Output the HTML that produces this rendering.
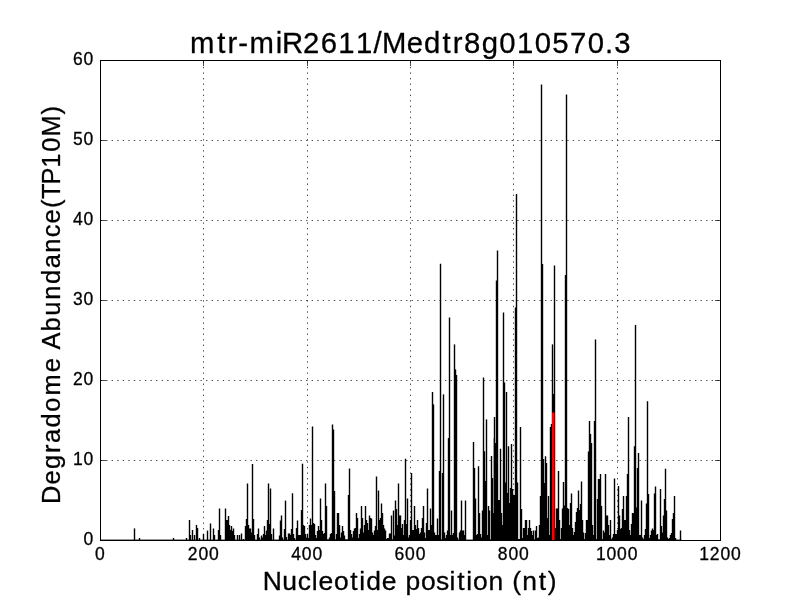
<!DOCTYPE html>
<html><head><meta charset="utf-8"><title>mtr-miR2611/Medtr8g010570.3</title>
<style>
html,body{margin:0;padding:0;background:#fff;}
body{width:800px;height:600px;overflow:hidden;font-family:"Liberation Sans",sans-serif;}
svg{display:block;}
text{font-family:"Liberation Sans",sans-serif;fill:#000;stroke:#000;stroke-width:0.3px;stroke-linejoin:round;}
</style></head>
<body>
<svg width="800" height="600" viewBox="0 0 800 600">
<rect x="0" y="0" width="800" height="600" fill="#ffffff"/>
<g stroke="#000" stroke-width="0.7" stroke-dasharray="1.389,4.167" fill="none"><line x1="203.5" y1="540.5" x2="203.5" y2="60.5"/><line x1="307.5" y1="540.5" x2="307.5" y2="60.5"/><line x1="410.5" y1="540.5" x2="410.5" y2="60.5"/><line x1="513.5" y1="540.5" x2="513.5" y2="60.5"/><line x1="617.5" y1="540.5" x2="617.5" y2="60.5"/><line x1="100.5" y1="460.5" x2="720.5" y2="460.5"/><line x1="100.5" y1="380.5" x2="720.5" y2="380.5"/><line x1="100.5" y1="300.5" x2="720.5" y2="300.5"/><line x1="100.5" y1="220.5" x2="720.5" y2="220.5"/><line x1="100.5" y1="140.5" x2="720.5" y2="140.5"/></g>
<g fill="#000"><rect x="133.80" y="528.40" width="1.4" height="12.10"/><rect x="138.80" y="538.00" width="1.4" height="2.50"/><rect x="172.80" y="538.00" width="1.4" height="2.50"/><rect x="185.80" y="538.00" width="1.4" height="2.50"/><rect x="188.80" y="520.00" width="1.4" height="20.50"/><rect x="189.80" y="535.00" width="1.4" height="5.50"/><rect x="191.80" y="530.00" width="1.4" height="10.50"/><rect x="193.80" y="535.00" width="1.4" height="5.50"/><rect x="195.80" y="525.00" width="1.4" height="15.50"/><rect x="196.80" y="528.00" width="1.4" height="12.50"/><rect x="198.80" y="538.00" width="1.4" height="2.50"/><rect x="202.80" y="534.00" width="1.4" height="6.50"/><rect x="206.80" y="530.60" width="1.4" height="9.90"/><rect x="209.80" y="523.50" width="1.4" height="17.00"/><rect x="212.80" y="528.50" width="1.4" height="12.00"/><rect x="213.80" y="535.00" width="1.4" height="5.50"/><rect x="217.80" y="530.00" width="1.4" height="10.50"/><rect x="218.80" y="508.50" width="1.4" height="32.00"/><rect x="219.80" y="535.00" width="1.4" height="5.50"/><rect x="224.80" y="508.50" width="1.4" height="32.00"/><rect x="225.80" y="520.00" width="1.4" height="20.50"/><rect x="226.80" y="520.00" width="1.4" height="20.50"/><rect x="227.80" y="516.00" width="1.4" height="24.50"/><rect x="228.80" y="525.00" width="1.4" height="15.50"/><rect x="229.80" y="530.00" width="1.4" height="10.50"/><rect x="230.80" y="526.00" width="1.4" height="14.50"/><rect x="231.80" y="531.00" width="1.4" height="9.50"/><rect x="232.80" y="528.50" width="1.4" height="12.00"/><rect x="233.80" y="535.00" width="1.4" height="5.50"/><rect x="236.80" y="535.00" width="1.4" height="5.50"/><rect x="238.80" y="535.00" width="1.4" height="5.50"/><rect x="240.80" y="533.50" width="1.4" height="7.00"/><rect x="242.80" y="539.00" width="1.4" height="1.50"/><rect x="244.80" y="526.00" width="1.4" height="14.50"/><rect x="245.80" y="519.00" width="1.4" height="21.50"/><rect x="246.80" y="483.50" width="1.4" height="57.00"/><rect x="247.80" y="525.00" width="1.4" height="15.50"/><rect x="248.80" y="528.50" width="1.4" height="12.00"/><rect x="249.80" y="528.50" width="1.4" height="12.00"/><rect x="250.80" y="532.50" width="1.4" height="8.00"/><rect x="251.80" y="464.00" width="1.4" height="76.50"/><rect x="252.80" y="519.00" width="1.4" height="21.50"/><rect x="253.80" y="535.00" width="1.4" height="5.50"/><rect x="256.80" y="534.00" width="1.4" height="6.50"/><rect x="257.80" y="528.50" width="1.4" height="12.00"/><rect x="258.80" y="537.50" width="1.4" height="3.00"/><rect x="260.80" y="535.50" width="1.4" height="5.00"/><rect x="261.80" y="537.50" width="1.4" height="3.00"/><rect x="262.80" y="534.00" width="1.4" height="6.50"/><rect x="263.80" y="526.00" width="1.4" height="14.50"/><rect x="264.80" y="535.00" width="1.4" height="5.50"/><rect x="265.80" y="530.60" width="1.4" height="9.90"/><rect x="266.80" y="520.00" width="1.4" height="20.50"/><rect x="267.80" y="483.50" width="1.4" height="57.00"/><rect x="268.80" y="524.00" width="1.4" height="16.50"/><rect x="269.80" y="488.50" width="1.4" height="52.00"/><rect x="270.80" y="534.00" width="1.4" height="6.50"/><rect x="272.80" y="528.50" width="1.4" height="12.00"/><rect x="278.80" y="535.50" width="1.4" height="5.00"/><rect x="279.80" y="520.50" width="1.4" height="20.00"/><rect x="280.80" y="515.50" width="1.4" height="25.00"/><rect x="281.80" y="537.50" width="1.4" height="3.00"/><rect x="283.80" y="529.00" width="1.4" height="11.50"/><rect x="284.80" y="500.60" width="1.4" height="39.90"/><rect x="285.80" y="537.00" width="1.4" height="3.50"/><rect x="287.80" y="533.50" width="1.4" height="7.00"/><rect x="288.80" y="533.50" width="1.4" height="7.00"/><rect x="289.80" y="535.00" width="1.4" height="5.50"/><rect x="290.80" y="529.00" width="1.4" height="11.50"/><rect x="291.80" y="493.25" width="1.4" height="47.25"/><rect x="292.80" y="534.00" width="1.4" height="6.50"/><rect x="293.80" y="538.00" width="1.4" height="2.50"/><rect x="295.80" y="528.00" width="1.4" height="12.50"/><rect x="296.80" y="520.50" width="1.4" height="20.00"/><rect x="297.80" y="535.00" width="1.4" height="5.50"/><rect x="298.80" y="535.00" width="1.4" height="5.50"/><rect x="299.80" y="535.00" width="1.4" height="5.50"/><rect x="300.80" y="510.00" width="1.4" height="30.50"/><rect x="301.80" y="463.70" width="1.4" height="76.80"/><rect x="302.80" y="525.00" width="1.4" height="15.50"/><rect x="303.80" y="526.00" width="1.4" height="14.50"/><rect x="304.80" y="534.00" width="1.4" height="6.50"/><rect x="305.80" y="537.50" width="1.4" height="3.00"/><rect x="306.80" y="534.00" width="1.4" height="6.50"/><rect x="307.80" y="538.00" width="1.4" height="2.50"/><rect x="308.80" y="525.00" width="1.4" height="15.50"/><rect x="309.80" y="518.50" width="1.4" height="22.00"/><rect x="310.80" y="525.00" width="1.4" height="15.50"/><rect x="311.80" y="426.50" width="1.4" height="114.00"/><rect x="312.80" y="523.00" width="1.4" height="17.50"/><rect x="313.80" y="524.00" width="1.4" height="16.50"/><rect x="314.80" y="535.00" width="1.4" height="5.50"/><rect x="315.80" y="538.00" width="1.4" height="2.50"/><rect x="316.80" y="531.00" width="1.4" height="9.50"/><rect x="317.80" y="526.00" width="1.4" height="14.50"/><rect x="318.80" y="530.00" width="1.4" height="10.50"/><rect x="319.80" y="498.50" width="1.4" height="42.00"/><rect x="320.80" y="520.00" width="1.4" height="20.50"/><rect x="321.80" y="531.00" width="1.4" height="9.50"/><rect x="322.80" y="534.00" width="1.4" height="6.50"/><rect x="323.80" y="533.00" width="1.4" height="7.50"/><rect x="324.80" y="483.50" width="1.4" height="57.00"/><rect x="325.80" y="506.00" width="1.4" height="34.50"/><rect x="326.80" y="539.50" width="1.4" height="1.00"/><rect x="327.80" y="539.50" width="1.4" height="1.00"/><rect x="328.80" y="537.50" width="1.4" height="3.00"/><rect x="329.80" y="534.00" width="1.4" height="6.50"/><rect x="330.80" y="533.00" width="1.4" height="7.50"/><rect x="331.80" y="424.50" width="1.4" height="116.00"/><rect x="332.80" y="429.50" width="1.4" height="111.00"/><rect x="333.80" y="491.00" width="1.4" height="49.50"/><rect x="334.80" y="539.50" width="1.4" height="1.00"/><rect x="335.80" y="534.00" width="1.4" height="6.50"/><rect x="336.80" y="513.00" width="1.4" height="27.50"/><rect x="337.80" y="513.00" width="1.4" height="27.50"/><rect x="338.80" y="525.00" width="1.4" height="15.50"/><rect x="339.80" y="537.50" width="1.4" height="3.00"/><rect x="340.80" y="532.50" width="1.4" height="8.00"/><rect x="341.80" y="526.00" width="1.4" height="14.50"/><rect x="342.80" y="531.00" width="1.4" height="9.50"/><rect x="343.80" y="535.50" width="1.4" height="5.00"/><rect x="344.80" y="539.50" width="1.4" height="1.00"/><rect x="345.80" y="539.50" width="1.4" height="1.00"/><rect x="346.80" y="539.50" width="1.4" height="1.00"/><rect x="347.80" y="495.00" width="1.4" height="45.50"/><rect x="348.80" y="468.50" width="1.4" height="72.00"/><rect x="349.80" y="530.00" width="1.4" height="10.50"/><rect x="350.80" y="534.00" width="1.4" height="6.50"/><rect x="351.80" y="537.50" width="1.4" height="3.00"/><rect x="352.80" y="531.00" width="1.4" height="9.50"/><rect x="353.80" y="528.50" width="1.4" height="12.00"/><rect x="354.80" y="528.00" width="1.4" height="12.50"/><rect x="355.80" y="513.00" width="1.4" height="27.50"/><rect x="356.80" y="518.00" width="1.4" height="22.50"/><rect x="357.80" y="538.00" width="1.4" height="2.50"/><rect x="358.80" y="534.00" width="1.4" height="6.50"/><rect x="359.80" y="528.50" width="1.4" height="12.00"/><rect x="360.80" y="506.00" width="1.4" height="34.50"/><rect x="361.80" y="518.00" width="1.4" height="22.50"/><rect x="362.80" y="532.50" width="1.4" height="8.00"/><rect x="363.80" y="525.00" width="1.4" height="15.50"/><rect x="364.80" y="506.00" width="1.4" height="34.50"/><rect x="365.80" y="520.00" width="1.4" height="20.50"/><rect x="366.80" y="523.00" width="1.4" height="17.50"/><rect x="367.80" y="530.00" width="1.4" height="10.50"/><rect x="368.80" y="515.50" width="1.4" height="25.00"/><rect x="369.80" y="518.00" width="1.4" height="22.50"/><rect x="370.80" y="518.50" width="1.4" height="22.00"/><rect x="371.80" y="532.50" width="1.4" height="8.00"/><rect x="372.80" y="535.00" width="1.4" height="5.50"/><rect x="373.80" y="530.50" width="1.4" height="10.00"/><rect x="374.80" y="526.00" width="1.4" height="14.50"/><rect x="375.80" y="476.50" width="1.4" height="64.00"/><rect x="376.80" y="530.00" width="1.4" height="10.50"/><rect x="377.80" y="490.50" width="1.4" height="50.00"/><rect x="378.80" y="520.00" width="1.4" height="20.50"/><rect x="379.80" y="518.00" width="1.4" height="22.50"/><rect x="380.80" y="503.50" width="1.4" height="37.00"/><rect x="381.80" y="513.00" width="1.4" height="27.50"/><rect x="382.80" y="525.00" width="1.4" height="15.50"/><rect x="383.80" y="528.50" width="1.4" height="12.00"/><rect x="384.80" y="530.50" width="1.4" height="10.00"/><rect x="385.80" y="539.00" width="1.4" height="1.50"/><rect x="386.80" y="538.00" width="1.4" height="2.50"/><rect x="387.80" y="538.00" width="1.4" height="2.50"/><rect x="388.80" y="533.50" width="1.4" height="7.00"/><rect x="389.80" y="533.50" width="1.4" height="7.00"/><rect x="390.80" y="515.50" width="1.4" height="25.00"/><rect x="391.80" y="539.50" width="1.4" height="1.00"/><rect x="392.80" y="510.50" width="1.4" height="30.00"/><rect x="393.80" y="535.50" width="1.4" height="5.00"/><rect x="394.80" y="500.50" width="1.4" height="40.00"/><rect x="395.80" y="509.00" width="1.4" height="31.50"/><rect x="396.80" y="525.00" width="1.4" height="15.50"/><rect x="397.80" y="483.50" width="1.4" height="57.00"/><rect x="398.80" y="515.50" width="1.4" height="25.00"/><rect x="399.80" y="515.50" width="1.4" height="25.00"/><rect x="400.80" y="528.00" width="1.4" height="12.50"/><rect x="401.80" y="524.00" width="1.4" height="16.50"/><rect x="402.80" y="535.00" width="1.4" height="5.50"/><rect x="403.80" y="520.00" width="1.4" height="20.50"/><rect x="404.80" y="458.75" width="1.4" height="81.75"/><rect x="405.80" y="524.00" width="1.4" height="16.50"/><rect x="406.80" y="498.50" width="1.4" height="42.00"/><rect x="407.80" y="537.50" width="1.4" height="3.00"/><rect x="408.80" y="535.00" width="1.4" height="5.50"/><rect x="409.80" y="520.00" width="1.4" height="20.50"/><rect x="410.80" y="473.00" width="1.4" height="67.50"/><rect x="411.80" y="530.00" width="1.4" height="10.50"/><rect x="412.80" y="530.00" width="1.4" height="10.50"/><rect x="413.80" y="506.00" width="1.4" height="34.50"/><rect x="414.80" y="525.00" width="1.4" height="15.50"/><rect x="415.80" y="529.00" width="1.4" height="11.50"/><rect x="416.80" y="520.00" width="1.4" height="20.50"/><rect x="417.80" y="528.00" width="1.4" height="12.50"/><rect x="418.80" y="534.00" width="1.4" height="6.50"/><rect x="419.80" y="532.50" width="1.4" height="8.00"/><rect x="420.80" y="528.00" width="1.4" height="12.50"/><rect x="421.80" y="518.00" width="1.4" height="22.50"/><rect x="422.80" y="506.00" width="1.4" height="34.50"/><rect x="423.80" y="532.50" width="1.4" height="8.00"/><rect x="424.80" y="538.00" width="1.4" height="2.50"/><rect x="425.80" y="523.00" width="1.4" height="17.50"/><rect x="426.80" y="488.50" width="1.4" height="52.00"/><rect x="427.80" y="530.00" width="1.4" height="10.50"/><rect x="428.80" y="530.00" width="1.4" height="10.50"/><rect x="429.80" y="508.50" width="1.4" height="32.00"/><rect x="430.80" y="525.00" width="1.4" height="15.50"/><rect x="431.80" y="392.00" width="1.4" height="148.50"/><rect x="432.80" y="404.40" width="1.4" height="136.10"/><rect x="433.80" y="532.50" width="1.4" height="8.00"/><rect x="434.80" y="535.00" width="1.4" height="5.50"/><rect x="435.80" y="535.00" width="1.4" height="5.50"/><rect x="436.80" y="518.50" width="1.4" height="22.00"/><rect x="437.80" y="535.00" width="1.4" height="5.50"/><rect x="438.80" y="471.00" width="1.4" height="69.50"/><rect x="439.80" y="263.75" width="1.4" height="276.75"/><rect x="440.80" y="539.50" width="1.4" height="1.00"/><rect x="441.80" y="473.00" width="1.4" height="67.50"/><rect x="442.80" y="394.40" width="1.4" height="146.10"/><rect x="443.80" y="532.50" width="1.4" height="8.00"/><rect x="444.80" y="538.00" width="1.4" height="2.50"/><rect x="445.80" y="535.00" width="1.4" height="5.50"/><rect x="446.80" y="530.50" width="1.4" height="10.00"/><rect x="447.80" y="438.00" width="1.4" height="102.50"/><rect x="448.80" y="317.50" width="1.4" height="223.00"/><rect x="449.80" y="535.00" width="1.4" height="5.50"/><rect x="450.80" y="510.50" width="1.4" height="30.00"/><rect x="451.80" y="535.00" width="1.4" height="5.50"/><rect x="452.80" y="533.00" width="1.4" height="7.50"/><rect x="453.80" y="344.40" width="1.4" height="196.10"/><rect x="454.80" y="369.40" width="1.4" height="171.10"/><rect x="455.80" y="375.00" width="1.4" height="165.50"/><rect x="456.80" y="537.50" width="1.4" height="3.00"/><rect x="458.80" y="532.50" width="1.4" height="8.00"/><rect x="459.80" y="530.50" width="1.4" height="10.00"/><rect x="460.80" y="500.50" width="1.4" height="40.00"/><rect x="461.80" y="530.50" width="1.4" height="10.00"/><rect x="462.80" y="530.50" width="1.4" height="10.00"/><rect x="463.80" y="535.00" width="1.4" height="5.50"/><rect x="464.80" y="500.50" width="1.4" height="40.00"/><rect x="472.80" y="442.00" width="1.4" height="98.50"/><rect x="473.80" y="468.00" width="1.4" height="72.50"/><rect x="474.80" y="498.50" width="1.4" height="42.00"/><rect x="475.80" y="535.00" width="1.4" height="5.50"/><rect x="476.80" y="534.00" width="1.4" height="6.50"/><rect x="477.80" y="466.25" width="1.4" height="74.25"/><rect x="478.80" y="513.00" width="1.4" height="27.50"/><rect x="479.80" y="534.00" width="1.4" height="6.50"/><rect x="480.80" y="537.50" width="1.4" height="3.00"/><rect x="481.80" y="510.50" width="1.4" height="30.00"/><rect x="482.80" y="377.50" width="1.4" height="163.00"/><rect x="483.80" y="451.25" width="1.4" height="89.25"/><rect x="484.80" y="481.00" width="1.4" height="59.50"/><rect x="485.80" y="419.40" width="1.4" height="121.10"/><rect x="486.80" y="535.00" width="1.4" height="5.50"/><rect x="487.80" y="506.00" width="1.4" height="34.50"/><rect x="488.80" y="510.50" width="1.4" height="30.00"/><rect x="489.80" y="539.50" width="1.4" height="1.00"/><rect x="490.80" y="456.00" width="1.4" height="84.50"/><rect x="491.80" y="478.00" width="1.4" height="62.50"/><rect x="492.80" y="513.00" width="1.4" height="27.50"/><rect x="493.80" y="417.00" width="1.4" height="123.50"/><rect x="494.80" y="443.00" width="1.4" height="97.50"/><rect x="495.80" y="280.50" width="1.4" height="260.00"/><rect x="496.80" y="250.50" width="1.4" height="290.00"/><rect x="497.80" y="500.00" width="1.4" height="40.50"/><rect x="498.80" y="500.00" width="1.4" height="40.50"/><rect x="499.80" y="448.75" width="1.4" height="91.75"/><rect x="500.80" y="513.00" width="1.4" height="27.50"/><rect x="501.80" y="525.00" width="1.4" height="15.50"/><rect x="502.80" y="312.50" width="1.4" height="228.00"/><rect x="503.80" y="382.50" width="1.4" height="158.00"/><rect x="504.80" y="482.50" width="1.4" height="58.00"/><rect x="505.80" y="392.00" width="1.4" height="148.50"/><rect x="506.80" y="493.00" width="1.4" height="47.50"/><rect x="507.80" y="446.25" width="1.4" height="94.25"/><rect x="508.80" y="503.00" width="1.4" height="37.50"/><rect x="509.80" y="488.00" width="1.4" height="52.50"/><rect x="510.80" y="444.00" width="1.4" height="96.50"/><rect x="511.80" y="489.00" width="1.4" height="51.50"/><rect x="512.80" y="495.00" width="1.4" height="45.50"/><rect x="513.80" y="495.00" width="1.4" height="45.50"/><rect x="514.80" y="307.50" width="1.4" height="233.00"/><rect x="515.80" y="194.00" width="1.4" height="346.50"/><rect x="516.80" y="482.50" width="1.4" height="58.00"/><rect x="517.80" y="539.00" width="1.4" height="1.50"/><rect x="518.80" y="539.00" width="1.4" height="1.50"/><rect x="519.80" y="427.00" width="1.4" height="113.50"/><rect x="520.80" y="509.00" width="1.4" height="31.50"/><rect x="521.80" y="538.00" width="1.4" height="2.50"/><rect x="522.80" y="528.00" width="1.4" height="12.50"/><rect x="523.80" y="528.00" width="1.4" height="12.50"/><rect x="524.80" y="520.00" width="1.4" height="20.50"/><rect x="525.80" y="520.00" width="1.4" height="20.50"/><rect x="526.80" y="535.00" width="1.4" height="5.50"/><rect x="527.80" y="528.00" width="1.4" height="12.50"/><rect x="528.80" y="520.00" width="1.4" height="20.50"/><rect x="529.80" y="528.00" width="1.4" height="12.50"/><rect x="530.80" y="531.00" width="1.4" height="9.50"/><rect x="531.80" y="535.00" width="1.4" height="5.50"/><rect x="532.80" y="530.50" width="1.4" height="10.00"/><rect x="533.80" y="539.50" width="1.4" height="1.00"/><rect x="534.80" y="530.50" width="1.4" height="10.00"/><rect x="535.80" y="526.00" width="1.4" height="14.50"/><rect x="536.80" y="538.00" width="1.4" height="2.50"/><rect x="537.80" y="537.50" width="1.4" height="3.00"/><rect x="538.80" y="525.00" width="1.4" height="15.50"/><rect x="539.80" y="496.00" width="1.4" height="44.50"/><rect x="540.80" y="84.50" width="1.4" height="456.00"/><rect x="541.80" y="264.00" width="1.4" height="276.50"/><rect x="542.80" y="459.00" width="1.4" height="81.50"/><rect x="543.80" y="483.00" width="1.4" height="57.50"/><rect x="544.80" y="456.25" width="1.4" height="84.25"/><rect x="545.80" y="463.00" width="1.4" height="77.50"/><rect x="546.80" y="518.00" width="1.4" height="22.50"/><rect x="547.80" y="496.00" width="1.4" height="44.50"/><rect x="548.80" y="535.00" width="1.4" height="5.50"/><rect x="549.80" y="427.00" width="1.4" height="113.50"/><rect x="550.80" y="424.00" width="1.4" height="116.50"/><rect x="551.80" y="344.40" width="1.4" height="196.10"/><rect x="552.80" y="394.00" width="1.4" height="146.50"/><rect x="553.80" y="265.50" width="1.4" height="275.00"/><rect x="554.80" y="528.00" width="1.4" height="12.50"/><rect x="555.80" y="508.50" width="1.4" height="32.00"/><rect x="556.80" y="508.50" width="1.4" height="32.00"/><rect x="557.80" y="471.00" width="1.4" height="69.50"/><rect x="558.80" y="520.00" width="1.4" height="20.50"/><rect x="559.80" y="539.00" width="1.4" height="1.50"/><rect x="560.80" y="528.00" width="1.4" height="12.50"/><rect x="561.80" y="508.50" width="1.4" height="32.00"/><rect x="562.80" y="482.00" width="1.4" height="58.50"/><rect x="563.80" y="505.50" width="1.4" height="35.00"/><rect x="564.80" y="275.00" width="1.4" height="265.50"/><rect x="565.80" y="94.50" width="1.4" height="446.00"/><rect x="566.80" y="508.00" width="1.4" height="32.50"/><rect x="567.80" y="509.00" width="1.4" height="31.50"/><rect x="568.80" y="525.00" width="1.4" height="15.50"/><rect x="569.80" y="503.00" width="1.4" height="37.50"/><rect x="570.80" y="493.50" width="1.4" height="47.00"/><rect x="571.80" y="528.00" width="1.4" height="12.50"/><rect x="572.80" y="535.00" width="1.4" height="5.50"/><rect x="573.80" y="532.00" width="1.4" height="8.50"/><rect x="574.80" y="522.00" width="1.4" height="18.50"/><rect x="575.80" y="512.00" width="1.4" height="28.50"/><rect x="576.80" y="508.00" width="1.4" height="32.50"/><rect x="577.80" y="490.50" width="1.4" height="50.00"/><rect x="578.80" y="510.00" width="1.4" height="30.50"/><rect x="579.80" y="504.00" width="1.4" height="36.50"/><rect x="580.80" y="481.50" width="1.4" height="59.00"/><rect x="581.80" y="520.00" width="1.4" height="20.50"/><rect x="582.80" y="532.50" width="1.4" height="8.00"/><rect x="583.80" y="539.00" width="1.4" height="1.50"/><rect x="584.80" y="533.00" width="1.4" height="7.50"/><rect x="585.80" y="520.00" width="1.4" height="20.50"/><rect x="586.80" y="520.00" width="1.4" height="20.50"/><rect x="587.80" y="451.50" width="1.4" height="89.00"/><rect x="588.80" y="421.00" width="1.4" height="119.50"/><rect x="589.80" y="434.00" width="1.4" height="106.50"/><rect x="590.80" y="443.00" width="1.4" height="97.50"/><rect x="591.80" y="525.00" width="1.4" height="15.50"/><rect x="592.80" y="535.00" width="1.4" height="5.50"/><rect x="593.80" y="421.00" width="1.4" height="119.50"/><rect x="594.80" y="339.50" width="1.4" height="201.00"/><rect x="595.80" y="539.00" width="1.4" height="1.50"/><rect x="596.80" y="499.00" width="1.4" height="41.50"/><rect x="597.80" y="479.00" width="1.4" height="61.50"/><rect x="598.80" y="479.00" width="1.4" height="61.50"/><rect x="599.80" y="474.00" width="1.4" height="66.50"/><rect x="600.80" y="506.00" width="1.4" height="34.50"/><rect x="601.80" y="539.00" width="1.4" height="1.50"/><rect x="602.80" y="530.50" width="1.4" height="10.00"/><rect x="603.80" y="532.50" width="1.4" height="8.00"/><rect x="604.80" y="474.00" width="1.4" height="66.50"/><rect x="605.80" y="515.50" width="1.4" height="25.00"/><rect x="606.80" y="515.50" width="1.4" height="25.00"/><rect x="607.80" y="525.00" width="1.4" height="15.50"/><rect x="608.80" y="535.00" width="1.4" height="5.50"/><rect x="609.80" y="520.00" width="1.4" height="20.50"/><rect x="610.80" y="539.00" width="1.4" height="1.50"/><rect x="611.80" y="537.50" width="1.4" height="3.00"/><rect x="612.80" y="534.00" width="1.4" height="6.50"/><rect x="613.80" y="478.50" width="1.4" height="62.00"/><rect x="614.80" y="534.00" width="1.4" height="6.50"/><rect x="615.80" y="534.00" width="1.4" height="6.50"/><rect x="616.80" y="530.00" width="1.4" height="10.50"/><rect x="617.80" y="486.00" width="1.4" height="54.50"/><rect x="618.80" y="515.50" width="1.4" height="25.00"/><rect x="619.80" y="529.00" width="1.4" height="11.50"/><rect x="620.80" y="528.00" width="1.4" height="12.50"/><rect x="621.80" y="509.00" width="1.4" height="31.50"/><rect x="622.80" y="496.00" width="1.4" height="44.50"/><rect x="623.80" y="520.00" width="1.4" height="20.50"/><rect x="624.80" y="520.00" width="1.4" height="20.50"/><rect x="625.80" y="496.00" width="1.4" height="44.50"/><rect x="626.80" y="474.00" width="1.4" height="66.50"/><rect x="627.80" y="417.00" width="1.4" height="123.50"/><rect x="628.80" y="530.00" width="1.4" height="10.50"/><rect x="629.80" y="535.00" width="1.4" height="5.50"/><rect x="630.80" y="524.00" width="1.4" height="16.50"/><rect x="631.80" y="513.00" width="1.4" height="27.50"/><rect x="632.80" y="513.00" width="1.4" height="27.50"/><rect x="633.80" y="446.25" width="1.4" height="94.25"/><rect x="634.80" y="325.00" width="1.4" height="215.50"/><rect x="635.80" y="507.50" width="1.4" height="33.00"/><rect x="636.80" y="468.00" width="1.4" height="72.50"/><rect x="637.80" y="453.00" width="1.4" height="87.50"/><rect x="638.80" y="535.00" width="1.4" height="5.50"/><rect x="639.80" y="535.00" width="1.4" height="5.50"/><rect x="640.80" y="500.50" width="1.4" height="40.00"/><rect x="641.80" y="537.50" width="1.4" height="3.00"/><rect x="642.80" y="539.00" width="1.4" height="1.50"/><rect x="643.80" y="535.00" width="1.4" height="5.50"/><rect x="644.80" y="529.00" width="1.4" height="11.50"/><rect x="645.80" y="503.50" width="1.4" height="37.00"/><rect x="646.80" y="401.25" width="1.4" height="139.25"/><rect x="647.80" y="494.00" width="1.4" height="46.50"/><rect x="648.80" y="538.00" width="1.4" height="2.50"/><rect x="649.80" y="535.00" width="1.4" height="5.50"/><rect x="650.80" y="530.50" width="1.4" height="10.00"/><rect x="651.80" y="528.50" width="1.4" height="12.00"/><rect x="652.80" y="530.00" width="1.4" height="10.50"/><rect x="653.80" y="493.50" width="1.4" height="47.00"/><rect x="654.80" y="486.50" width="1.4" height="54.00"/><rect x="655.80" y="535.00" width="1.4" height="5.50"/><rect x="656.80" y="534.00" width="1.4" height="6.50"/><rect x="657.80" y="539.50" width="1.4" height="1.00"/><rect x="658.80" y="539.50" width="1.4" height="1.00"/><rect x="659.80" y="489.00" width="1.4" height="51.50"/><rect x="660.80" y="526.00" width="1.4" height="14.50"/><rect x="661.80" y="532.50" width="1.4" height="8.00"/><rect x="662.80" y="515.50" width="1.4" height="25.00"/><rect x="663.80" y="499.00" width="1.4" height="41.50"/><rect x="664.80" y="468.75" width="1.4" height="71.75"/><rect x="665.80" y="510.50" width="1.4" height="30.00"/><rect x="666.80" y="537.50" width="1.4" height="3.00"/><rect x="667.80" y="539.00" width="1.4" height="1.50"/><rect x="668.80" y="538.00" width="1.4" height="2.50"/><rect x="669.80" y="535.00" width="1.4" height="5.50"/><rect x="670.80" y="533.00" width="1.4" height="7.50"/><rect x="671.80" y="519.00" width="1.4" height="21.50"/><rect x="672.80" y="513.00" width="1.4" height="27.50"/><rect x="673.80" y="496.00" width="1.4" height="44.50"/><rect x="674.80" y="538.00" width="1.4" height="2.50"/><rect x="679.80" y="530.50" width="1.4" height="10.00"/><rect x="493.75" y="438.00" width="0.6" height="102.50"/><rect x="100.5" y="539.6" width="581" height="1"/></g>
<rect x="552.0" y="412.5" width="2.5" height="128" fill="#ff0000"/>
<g stroke="#000" stroke-width="0.7" fill="none"><line x1="100.5" y1="540.5" x2="100.5" y2="535.0"/><line x1="100.5" y1="60.5" x2="100.5" y2="66.0"/><line x1="203.5" y1="540.5" x2="203.5" y2="535.0"/><line x1="203.5" y1="60.5" x2="203.5" y2="66.0"/><line x1="307.5" y1="540.5" x2="307.5" y2="535.0"/><line x1="307.5" y1="60.5" x2="307.5" y2="66.0"/><line x1="410.5" y1="540.5" x2="410.5" y2="535.0"/><line x1="410.5" y1="60.5" x2="410.5" y2="66.0"/><line x1="513.5" y1="540.5" x2="513.5" y2="535.0"/><line x1="513.5" y1="60.5" x2="513.5" y2="66.0"/><line x1="617.5" y1="540.5" x2="617.5" y2="535.0"/><line x1="617.5" y1="60.5" x2="617.5" y2="66.0"/><line x1="720.5" y1="540.5" x2="720.5" y2="535.0"/><line x1="720.5" y1="60.5" x2="720.5" y2="66.0"/><line x1="100.5" y1="540.5" x2="106.0" y2="540.5"/><line x1="720.5" y1="540.5" x2="715.0" y2="540.5"/><line x1="100.5" y1="460.5" x2="106.0" y2="460.5"/><line x1="720.5" y1="460.5" x2="715.0" y2="460.5"/><line x1="100.5" y1="380.5" x2="106.0" y2="380.5"/><line x1="720.5" y1="380.5" x2="715.0" y2="380.5"/><line x1="100.5" y1="300.5" x2="106.0" y2="300.5"/><line x1="720.5" y1="300.5" x2="715.0" y2="300.5"/><line x1="100.5" y1="220.5" x2="106.0" y2="220.5"/><line x1="720.5" y1="220.5" x2="715.0" y2="220.5"/><line x1="100.5" y1="140.5" x2="106.0" y2="140.5"/><line x1="720.5" y1="140.5" x2="715.0" y2="140.5"/><line x1="100.5" y1="60.5" x2="106.0" y2="60.5"/><line x1="720.5" y1="60.5" x2="715.0" y2="60.5"/></g>
<rect x="100.5" y="60.5" width="620" height="480" fill="none" stroke="#000" stroke-width="1"/>
<g id="txt" style="filter:grayscale(1)"><text transform="translate(94.70,559.80) scale(0.9929,1)" x="0.43" y="0" font-size="17.67">0</text><text transform="translate(187.43,559.80) scale(0.9929,1)" x="0.43 11.11 21.79" y="0" font-size="17.67">200</text><text transform="translate(290.76,559.80) scale(0.9929,1)" x="0.43 11.11 21.79" y="0" font-size="17.67">400</text><text transform="translate(394.09,559.80) scale(0.9929,1)" x="0.43 11.11 21.79" y="0" font-size="17.67">600</text><text transform="translate(497.43,559.80) scale(0.9929,1)" x="0.43 11.11 21.79" y="0" font-size="17.67">800</text><text transform="translate(595.46,559.80) scale(0.9929,1)" x="0.43 11.11 21.79 32.47" y="0" font-size="17.67">1000</text><text transform="translate(698.79,559.80) scale(0.9929,1)" x="0.43 11.11 21.79 32.47" y="0" font-size="17.67">1200</text><text transform="translate(83.10,544.80) scale(0.9929,1)" x="0.43" y="0" font-size="17.67">0</text><text transform="translate(72.49,464.80) scale(0.9929,1)" x="0.43 11.11" y="0" font-size="17.67">10</text><text transform="translate(72.49,384.80) scale(0.9929,1)" x="0.43 11.11" y="0" font-size="17.67">20</text><text transform="translate(72.49,304.80) scale(0.9929,1)" x="0.43 11.11" y="0" font-size="17.67">30</text><text transform="translate(72.49,224.80) scale(0.9929,1)" x="0.43 11.11" y="0" font-size="17.67">40</text><text transform="translate(72.49,144.80) scale(0.9929,1)" x="0.43 11.11" y="0" font-size="17.67">50</text><text transform="translate(72.49,64.80) scale(0.9929,1)" x="0.43 11.11" y="0" font-size="17.67">60</text><text transform="translate(188.79,52.80) scale(0.9762,1)" x="1.36 29.13 39.73 50.72 62.21 89.19 95.52 116.95 135.06 153.16 171.27 189.29 198.03 223.22 241.00 259.79 270.39 281.94 300.03 318.11 336.22 354.32 372.43 390.53 408.64 426.39 435.79" y="0" font-size="30.00">mtr-miR2611/Medtr8g010570.3</text><text transform="translate(263.01,589.70) scale(1.0171,1)" x="-0.19 18.95 34.22 48.01 54.64 69.72 85.68 94.63 101.51 116.87 131.96 140.05 155.37 170.02 183.45 190.96 199.92 206.51 221.82 237.13 245.11 254.80 271.03 279.92" y="0" font-size="26.00">Nucleotide position (nt)</text><text transform="translate(60.00,504.40) rotate(-90) scale(0.9769,1)" x="0.46 20.35 36.34 52.63 62.83 78.79 94.74 111.44 135.37 150.93 158.69 177.01 193.24 209.46 225.69 241.66 257.61 273.49 287.66 303.43 312.63 327.43 344.73 361.01 376.59 399.12" y="0" font-size="26.00">Degradome Abundance(TP10M)</text></g>
</svg>
</body></html>
